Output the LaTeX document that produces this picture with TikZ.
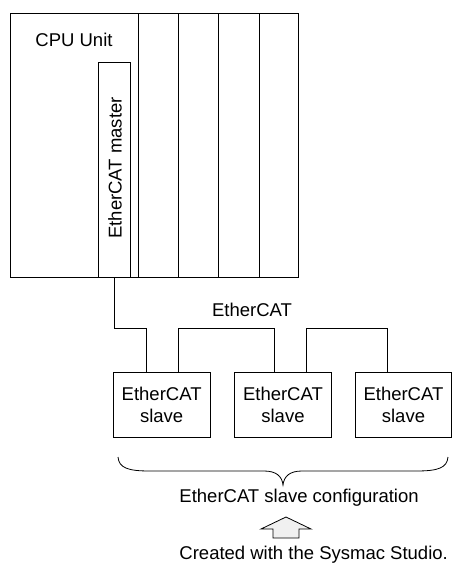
\documentclass[tikz,border=0pt]{standalone}
\usepackage{fontspec}
\setmainfont{Liberation Sans}
\begin{document}
\begin{tikzpicture}[x=1pt,y=-1pt,line width=0.9pt,
  every node/.style={font=\fontsize{18.5}{22}\selectfont},
  box/.style={draw, inner sep=0pt, anchor=north west},
  slavebox/.style={box, minimum width=97pt, minimum height=65pt, align=center},
  label/.style={inner sep=0pt}]
\useasboundingbox (0,0) rectangle (456,565);
% CPU rack
\node[box, minimum width=128.5pt, minimum height=264pt] (cpu) at (9.5,13) {};
\node[box, minimum width=40pt, minimum height=264pt] (slot1) at (138,13) {};
\node[box, minimum width=40pt, minimum height=264pt] (slot2) at (178,13) {};
\node[box, minimum width=41pt, minimum height=264pt] (slot3) at (218,13) {};
\node[box, minimum width=39pt, minimum height=264pt] (slot4) at (259,13) {};
\node[label, anchor=west] (cpulabel) at (35,40) {CPU Unit};
\node[box, minimum width=32pt, minimum height=215pt] (master) at (98,62) {};
\node[label, rotate=90] (masterlabel) at (115,168) {EtherCAT master};
% slaves
\node[slavebox] (s1) at (112.7,372) {EtherCAT\\slave};
\node[slavebox] (s2) at (234,372) {EtherCAT\\slave};
\node[slavebox, minimum width=96pt] (s3) at (355,372) {EtherCAT\\slave};
% bus
\coordinate (b1) at (146,328);
\coordinate (b2a) at (178,328);
\coordinate (b2b) at (274,328);
\coordinate (b3a) at (306.7,328);
\coordinate (b3b) at (387,328);
\draw (master.south) |- (b1) -- ([xshift=33.3pt]s1.north west);
\draw ([xshift=65.3pt]s1.north west) -- (b2a) -- (b2b) -- ([xshift=40pt]s2.north west);
\draw ([xshift=72.7pt]s2.north west) -- (b3a) -- (b3b) -- ([xshift=32pt]s3.north west);
\node[label] (bus) at (252,310) {EtherCAT};
% brace
\draw[line width=0.8pt] (118,457) .. controls (119,468) and (128,471) .. (150,471)
  -- (264,471) .. controls (276,471) and (282,476) .. (283,485)
  .. controls (284,476) and (290,471) .. (302,471)
  -- (416,471) .. controls (438,471) and (447,468) .. (448,457);
\node[label, anchor=west] (conf) at (179,498) {EtherCAT slave configuration};
% arrow
\draw[fill=gray!12, line width=0.8pt] (286,517) -- (311,529) -- (299,529) -- (299,538)
  -- (273,538) -- (273,529) -- (261,529) -- cycle;
\node[label, anchor=west] (created) at (179,555) {Created with the Sysmac Studio.};
\end{tikzpicture}
\end{document}
